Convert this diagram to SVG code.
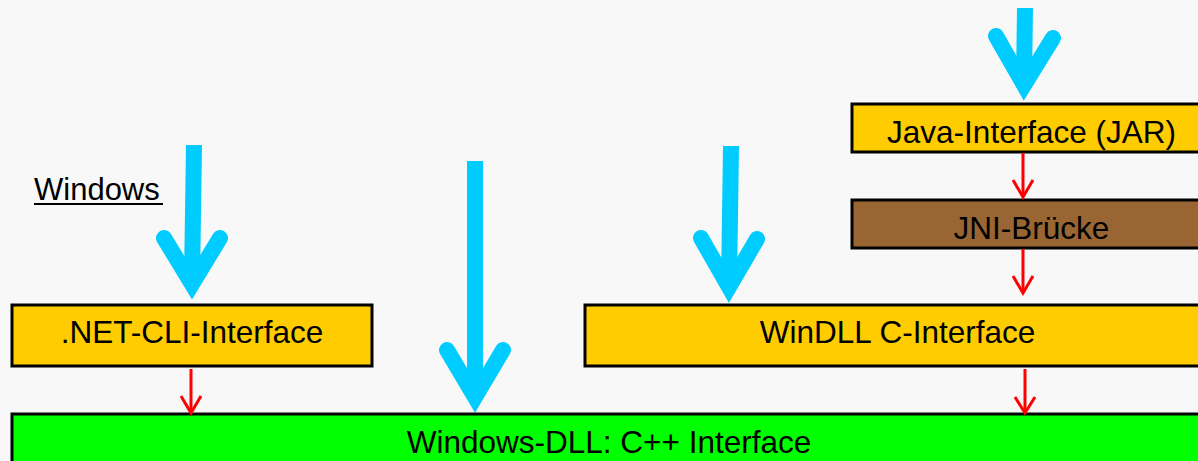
<svg xmlns="http://www.w3.org/2000/svg" width="1198" height="461" viewBox="0 0 1198 461">
<style>
.box{stroke:#000;stroke-width:3}
.yel{fill:#ffcc00}
.t{font-family:"Liberation Sans",Arial,sans-serif;font-size:31.5px;fill:#000;text-anchor:middle}
.blue{fill:none;stroke:#00ccff;stroke-width:16}
.bs{stroke-linecap:butt}
.bh{stroke-linecap:round;stroke-linejoin:miter;stroke-miterlimit:10}
.red{fill:none;stroke:#ff0000;stroke-width:3;stroke-linejoin:miter;stroke-miterlimit:10}
</style>
<rect x="0" y="0" width="1198" height="461" fill="#f8f8f8"/>
<g id="windows-label">
<text x="34" y="200" style="font-family:'Liberation Sans',Arial,sans-serif;font-size:31px;fill:#000">Windows</text>
<line x1="34" y1="204" x2="163" y2="204" stroke="#000" stroke-width="2"/>
</g>
<g id="cpp">
<rect class="box" x="12" y="414" width="1200" height="60" fill="#00ff00"/>
<text class="t" x="609" y="453">Windows-DLL: C++ Interface</text>
</g>
<g id="net">
<rect class="box yel" x="12" y="305" width="360" height="61"/>
<text class="t" x="192" y="343">.NET-CLI-Interface</text>
</g>
<g id="windll">
<rect class="box yel" x="585" y="305" width="625" height="61"/>
<text class="t" x="897.5" y="343">WinDLL C-Interface</text>
</g>
<g id="java">
<rect class="box yel" x="852" y="104" width="360" height="48"/>
<text class="t" x="1031.5" y="143">Java-Interface (JAR)</text>
</g>
<g id="jni">
<rect class="box" x="852" y="200" width="360" height="48" fill="#996633"/>
<text class="t" x="1031.5" y="239">JNI-Brücke</text>
</g>
<g id="connectors">
<line class="blue bs" x1="194" y1="145" x2="192" y2="280"/>
<polyline class="blue bh" points="164,238 192,284 220,238"/>
<line class="blue bs" x1="475" y1="161" x2="475" y2="392"/>
<polyline class="blue bh" points="447,350 475,397 503,350"/>
<line class="blue bs" x1="731" y1="146" x2="729" y2="283"/>
<polyline class="blue bh" points="701,238 729,287 757,239"/>
<line class="blue bs" x1="1025" y1="8" x2="1024" y2="80"/>
<polyline class="blue bh" points="996,36 1024,85 1053,38"/>
<line class="red" x1="191" y1="369" x2="191" y2="411"/>
<polyline class="red" points="181,396 191,413 201,396"/>
<line class="red" x1="1023" y1="153" x2="1023" y2="195"/>
<polyline class="red" points="1013,180 1023,197 1033,180"/>
<line class="red" x1="1023" y1="249" x2="1023" y2="292"/>
<polyline class="red" points="1013,276 1023,293 1033,276"/>
<line class="red" x1="1025" y1="369" x2="1025" y2="411"/>
<polyline class="red" points="1015,397 1025,413 1035,397"/>
</g>
</svg>
